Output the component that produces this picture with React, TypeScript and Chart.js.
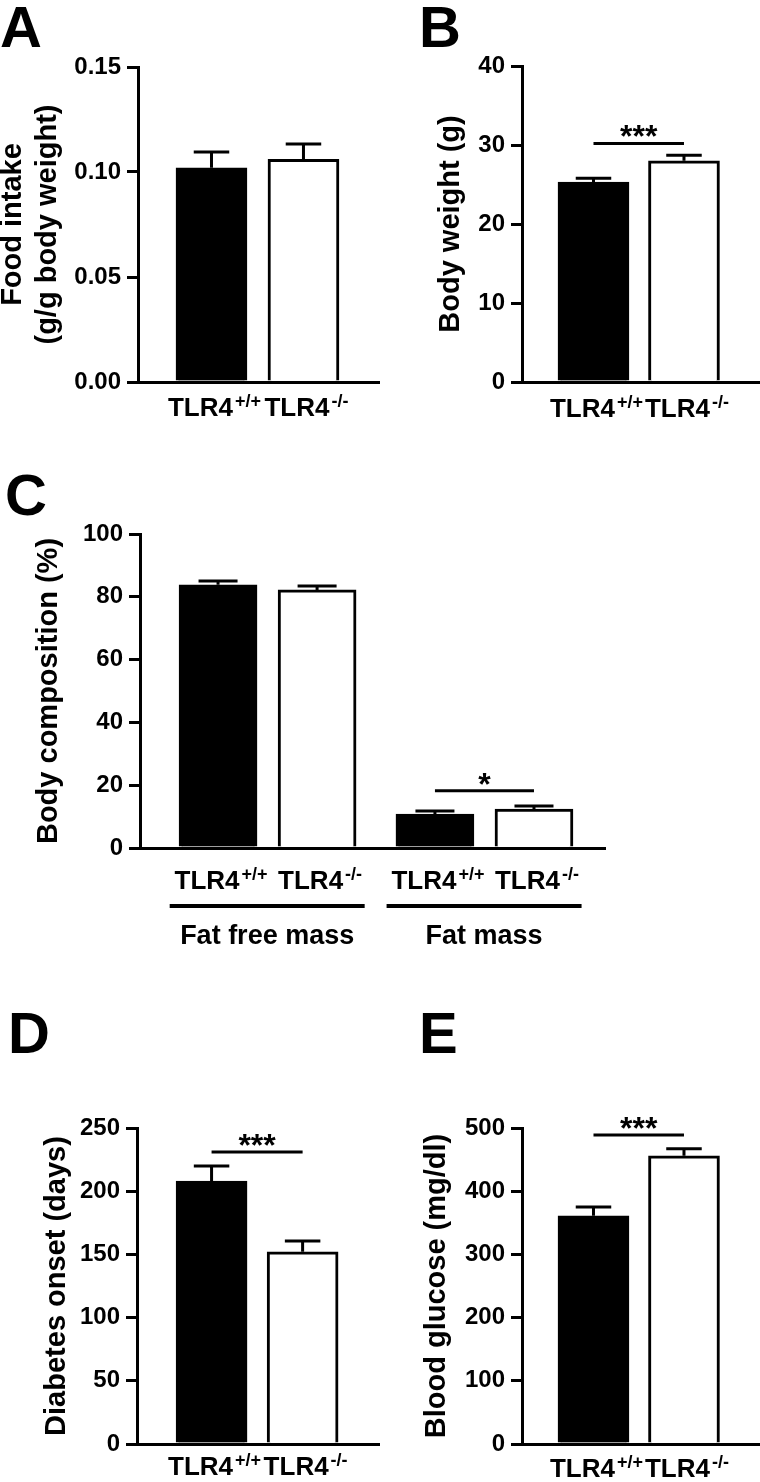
import React, { useEffect, useRef } from "react";
import { Chart, registerables } from "chart.js";

Chart.register(...registerables);

const TEXT_FONT = "'Liberation Sans', Arial, Helvetica, sans-serif";
Chart.defaults.font.family = TEXT_FONT;
Chart.defaults.color = "#000";

// ---------- data ----------
const genotypeBase = ["TLR4", "TLR4"];
const genotypeSup = ["+/+", "-/-"];
const genotypeFill = ["#000000", "#ffffff"];

// A: food intake
const foodIntakeMean = [0.102, 0.106];
const foodIntakeSem = [0.0075, 0.0073];
const foodIntakeTicks = [0, 0.05, 0.1, 0.15];

// B: body weight
const bodyWeightMean = [25.3, 28.0];
const bodyWeightSem = [0.5, 0.7];
const bodyWeightTicks = [0, 10, 20, 30, 40];
const bodyWeightSig = { from: 0, to: 1, value: 30.2, mark: "***" };

// C: body composition
const compositionGroups = ["Fat free mass", "Fat mass"];
const compositionBase = ["TLR4", "TLR4", "TLR4", "TLR4"];
const compositionSup = ["+/+", "-/-", "+/+", "-/-"];
const compositionFill = ["#000000", "#ffffff", "#000000", "#ffffff"];
const compositionMean = [83.8, 82.2, 10.8, 12.4];
const compositionSem = [1.2, 1.2, 1.0, 1.0];
const compositionTicks = [0, 20, 40, 60, 80, 100];
const compositionSig = { from: 2, to: 3, value: 18.2, mark: "*" };

// D: diabetes onset
const onsetMean = [208, 152];
const onsetSem = [12, 8.6];
const onsetTicks = [0, 50, 100, 150, 200, 250];
const onsetSig = { from: 0, to: 1, value: 231, mark: "***" };

// E: blood glucose
const glucoseMean = [361, 456];
const glucoseSem = [14, 11];
const glucoseTicks = [0, 100, 200, 300, 400, 500];
const glucoseSig = { from: 0, to: 1, value: 489, mark: "***" };

// ---------- layout ----------
type Sig = { from: number; to: number; value: number; mark: string };
type Panel = {
  letter: string;
  letterX: number;
  letterY: number;
  left: number;
  top: number;
  width: number;
  height: number;
  plotLeft: number;
  plotTop: number;
  plotRight: number;
  plotBottom: number;
  xs: number[];
  xMin: number;
  xMax: number;
  barThickness: number;
  means: number[];
  sems: number[];
  fills: string[];
  ticks: number[];
  decimals: number;
  title: string[];
  titlePad: number;
  labelBase: string[];
  labelSup: string[];
  labelOffset: number;
  sig?: Sig;
  groups?: string[];
};

const panels: Panel[] = [
  {
    letter: "A", letterX: 0, letterY: 47,
    left: 0, top: 0, width: 380, height: 430,
    plotLeft: 138, plotTop: 67, plotRight: 380, plotBottom: 382,
    xs: [1, 2], xMin: 0.201, xMax: 2.832, barThickness: 71,
    means: foodIntakeMean, sems: foodIntakeSem, fills: genotypeFill,
    ticks: foodIntakeTicks, decimals: 2,
    title: ["Food intake", "(g/g body weight)"], titlePad: -4.4,
    labelBase: genotypeBase, labelSup: genotypeSup, labelOffset: 34,
  },
  {
    letter: "B", letterX: 39, letterY: 47,
    left: 380, top: 0, width: 380, height: 430,
    plotLeft: 142, plotTop: 66, plotRight: 380, plotBottom: 382,
    xs: [1, 2], xMin: 0.21, xMax: 2.84, barThickness: 71,
    means: bodyWeightMean, sems: bodyWeightSem, fills: genotypeFill,
    ticks: bodyWeightTicks, decimals: 0,
    title: ["Body weight (g)"], titlePad: 53.6,
    labelBase: genotypeBase, labelSup: genotypeSup, labelOffset: 35,
    sig: bodyWeightSig,
  },
  {
    letter: "C", letterX: 5, letterY: 85,
    left: 0, top: 430, width: 620, height: 530,
    plotLeft: 140, plotTop: 104, plotRight: 605, plotBottom: 418,
    xs: [1, 2, 3.19, 4.19], xMin: 0.212, xMax: 4.907, barThickness: 78,
    means: compositionMean, sems: compositionSem, fills: compositionFill,
    ticks: compositionTicks, decimals: 0,
    title: ["Body composition (%)"], titlePad: 32,
    labelBase: compositionBase, labelSup: compositionSup, labelOffset: 41,
    sig: compositionSig, groups: compositionGroups,
  },
  {
    letter: "D", letterX: 8, letterY: 63,
    left: 0, top: 990, width: 380, height: 492,
    plotLeft: 137, plotTop: 138, plotRight: 380, plotBottom: 454,
    xs: [1, 2], xMin: 0.181, xMax: 2.85, barThickness: 71,
    means: onsetMean, sems: onsetSem, fills: genotypeFill,
    ticks: onsetTicks, decimals: 0,
    title: ["Diabetes onset (days)"], titlePad: 39.6,
    labelBase: genotypeBase, labelSup: genotypeSup, labelOffset: 31,
    sig: onsetSig,
  },
  {
    letter: "E", letterX: 39, letterY: 63,
    left: 380, top: 990, width: 380, height: 492,
    plotLeft: 142, plotTop: 138, plotRight: 380, plotBottom: 454,
    xs: [1, 2], xMin: 0.21, xMax: 2.84, barThickness: 71,
    means: glucoseMean, sems: glucoseSem, fills: genotypeFill,
    ticks: glucoseTicks, decimals: 0,
    title: ["Blood glucose (mg/dl)"], titlePad: 39.6,
    labelBase: genotypeBase, labelSup: genotypeSup, labelOffset: 33,
    sig: glucoseSig,
  },
];

function makeFigurePlugin(p: Panel) {
  return {
    id: "figure" + p.letter,
    afterDatasetsDraw(chart: any) {
      const ctx = chart.ctx;
      const meta = chart.getDatasetMeta(0);
      const y = chart.scales.y;
      ctx.save();
      ctx.strokeStyle = "#000";
      ctx.lineWidth = 3;
      ctx.lineCap = "butt";
      meta.data.forEach((bar: any, i: number) => {
        const top = y.getPixelForValue(p.means[i] + p.sems[i]);
        const half = p.barThickness / 4;
        ctx.beginPath();
        ctx.moveTo(bar.x, bar.y);
        ctx.lineTo(bar.x, top);
        ctx.moveTo(bar.x - half, top);
        ctx.lineTo(bar.x + half, top);
        ctx.stroke();
      });
      ctx.restore();
    },
    afterDraw(chart: any) {
      const ctx = chart.ctx;
      const meta = chart.getDatasetMeta(0);
      const y = chart.scales.y;
      const area = chart.chartArea;
      ctx.save();
      ctx.fillStyle = "#000";
      ctx.strokeStyle = "#000";
      ctx.textBaseline = "alphabetic";

      // category labels with superscripts
      meta.data.forEach((bar: any, i: number) => {
        const base = p.labelBase[i];
        const sup = p.labelSup[i];
        ctx.font = `bold 26px ${TEXT_FONT}`;
        const w1 = ctx.measureText(base).width;
        ctx.font = `bold 18px ${TEXT_FONT}`;
        const w2 = ctx.measureText(sup).width;
        const x0 = bar.x - (w1 + w2 + 2) / 2 + 3;
        const baseline = area.bottom + p.labelOffset;
        ctx.textAlign = "left";
        ctx.font = `bold 26px ${TEXT_FONT}`;
        ctx.fillText(base, x0, baseline);
        ctx.font = `bold 18px ${TEXT_FONT}`;
        ctx.fillText(sup, x0 + w1 + 2, baseline - 9);
      });

      // significance bar
      if (p.sig) {
        const a = meta.data[p.sig.from];
        const b = meta.data[p.sig.to];
        const yy = y.getPixelForValue(p.sig.value);
        ctx.lineWidth = 3;
        ctx.beginPath();
        ctx.moveTo(a.x, yy);
        ctx.lineTo(b.x, yy);
        ctx.stroke();
        ctx.font = `bold 32px ${TEXT_FONT}`;
        ctx.textAlign = "center";
        ctx.fillText(p.sig.mark, (a.x + b.x) / 2, yy + 4);
      }

      // group underlines and labels
      if (p.groups) {
        p.groups.forEach((g, gi) => {
          const a = meta.data[gi * 2];
          const b = meta.data[gi * 2 + 1];
          const x1 = a.x - p.barThickness * 0.62;
          const x2 = b.x + p.barThickness * 0.61;
          const ly = area.bottom + 58;
          ctx.lineWidth = 4;
          ctx.beginPath();
          ctx.moveTo(x1, ly);
          ctx.lineTo(x2, ly);
          ctx.stroke();
          ctx.font = `bold 27px ${TEXT_FONT}`;
          ctx.textAlign = "center";
          ctx.fillText(g, (x1 + x2) / 2, area.bottom + 96);
        });
      }

      // panel letter
      ctx.font = `bold 58px ${TEXT_FONT}`;
      ctx.textAlign = "left";
      ctx.fillText(p.letter, p.letterX, p.letterY);
      ctx.restore();
    },
  };
}

function PanelChart({ p }: { p: Panel }) {
  const ref = useRef<HTMLCanvasElement>(null);
  useEffect(() => {
    const canvas = ref.current;
    if (!canvas) return;
    const chart = new Chart(canvas, {
      type: "bar",
      data: {
        datasets: [
          {
            data: p.xs.map((x, i) => ({ x, y: p.means[i] })),
            backgroundColor: p.fills,
            borderColor: "#000",
            borderWidth: 3,
            barThickness: p.barThickness,
            borderSkipped: "start",
          } as any,
        ],
      },
      options: {
        responsive: false,
        animation: false,
        events: [],
        layout: {
          padding: { left: 0, top: p.plotTop, right: p.width - p.plotRight, bottom: 0 },
        },
        plugins: { legend: { display: false }, tooltip: { enabled: false } },
        scales: {
          x: {
            type: "linear",
            min: p.xMin,
            max: p.xMax,
            offset: false,
            grid: { display: false },
            border: { display: true, color: "#000", width: 3 },
            ticks: { display: false },
            afterFit: (s: any) => {
              s.height = p.height - p.plotBottom;
            },
          },
          y: {
            type: "linear",
            min: p.ticks[0],
            max: p.ticks[p.ticks.length - 1],
            afterBuildTicks: (s: any) => {
              s.ticks = p.ticks.map((v) => ({ value: v }));
            },
            afterFit: (s: any) => {
              s.width = p.plotLeft;
            },
            grid: {
              display: true,
              drawOnChartArea: false,
              drawTicks: true,
              tickLength: 11,
              tickWidth: 3,
              tickColor: "#000",
              lineWidth: 3,
              color: "#000",
            },
            border: { display: true, color: "#000", width: 3 },
            ticks: {
              font: { size: 24, weight: "bold" },
              padding: 6,
              color: "#000",
              callback: (v: any) => Number(v).toFixed(p.decimals),
            },
            title: {
              display: true,
              text: p.title,
              color: "#000",
              font: { size: 29, weight: "bold", lineHeight: 1.2 },
              padding: { top: p.titlePad, bottom: 0 },
            },
          },
        },
      } as any,
      plugins: [makeFigurePlugin(p)],
    });
    return () => chart.destroy();
  }, [p]);
  return (
    <canvas
      ref={ref}
      width={p.width}
      height={p.height}
      style={{ position: "absolute", left: p.left, top: p.top, width: p.width, height: p.height }}
    />
  );
}

export default function App() {
  return (
    <div
      style={{
        position: "absolute",
        left: 0,
        top: 0,
        width: 760,
        height: 1482,
        background: "#ffffff",
        overflow: "hidden",
      }}
    >
      {panels.map((p) => (
        <PanelChart key={p.letter} p={p} />
      ))}
    </div>
  );
}
